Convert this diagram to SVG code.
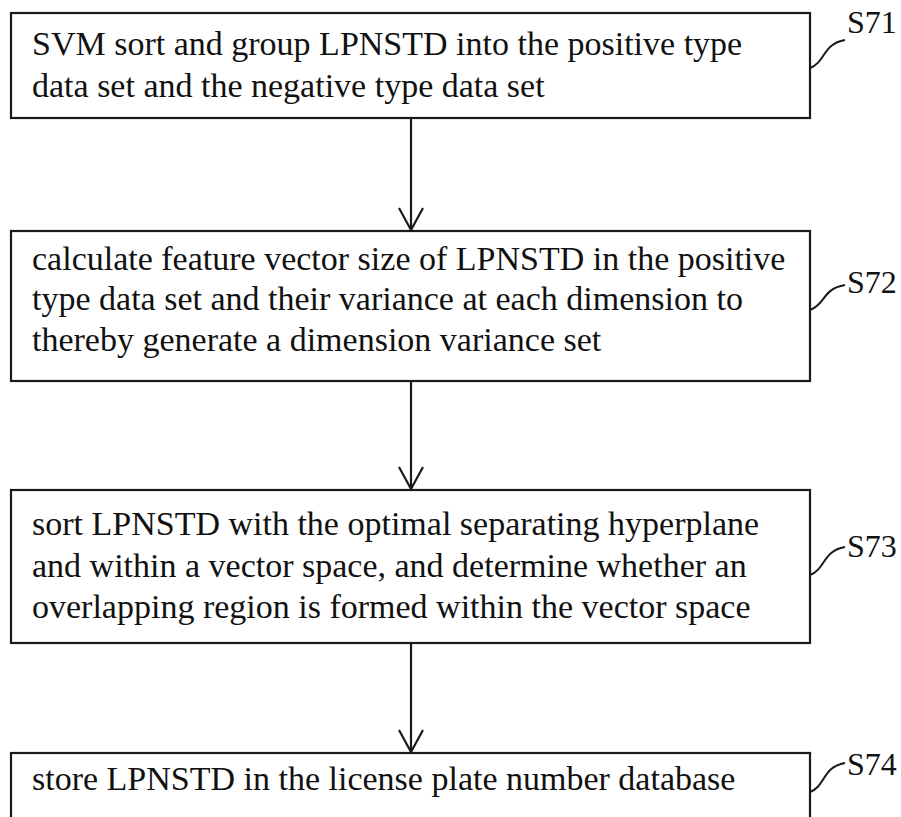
<svg xmlns="http://www.w3.org/2000/svg" width="901" height="817" viewBox="0 0 901 817">
<style>
.box{fill:#fff;stroke:#1a1a1a;stroke-width:2.2}
.t{font-family:"Liberation Serif","Times New Roman",serif;font-size:34px;fill:#111}
.lbl{font-family:"Liberation Serif","Times New Roman",serif;font-size:32px;fill:#111}
.lead{fill:none;stroke:#1a1a1a;stroke-width:2}
.conn{fill:none;stroke:#1a1a1a;stroke-width:2.2}
.head{fill:none;stroke:#1a1a1a;stroke-width:2.2}
</style>
<g id="S71">
<rect class="box" x="11" y="13" width="799" height="105"/>
<text class="t" x="32" y="55">SVM sort and group LPNSTD into the positive type</text>
<text class="t" x="32" y="97">data set and the negative type data set</text>
<path class="lead" d="M810,68 C826,62 822,44 845,40"/>
<text class="lbl" x="847" y="33">S71</text>
</g>
<g id="S72">
<rect class="box" x="11" y="231" width="799" height="150"/>
<text class="t" x="32" y="270">calculate feature vector size of LPNSTD in the positive</text>
<text class="t" x="32" y="310">type data set and their variance at each dimension to</text>
<text class="t" x="32" y="351">thereby generate a dimension variance set</text>
<path class="lead" d="M810,310 C826,304 822,289 845,285"/>
<text class="lbl" x="847" y="293">S72</text>
</g>
<g id="S73">
<rect class="box" x="11" y="490" width="799" height="153"/>
<text class="t" x="32" y="535">sort LPNSTD with the optimal separating hyperplane</text>
<text class="t" x="32" y="577">and within a vector space, and determine whether an</text>
<text class="t" x="32" y="618">overlapping region is formed within the vector space</text>
<path class="lead" d="M810,575 C826,569 822,551 845,547"/>
<text class="lbl" x="847" y="557">S73</text>
</g>
<g id="S74">
<rect class="box" x="11" y="753" width="799" height="90"/>
<text class="t" x="32" y="790">store LPNSTD in the license plate number database</text>
<path class="lead" d="M810,792 C826,786 822,767 845,763"/>
<text class="lbl" x="847" y="775">S74</text>
</g>
<g id="connectors">
<line class="conn" x1="411" y1="118" x2="411" y2="230"/>
<path class="head" d="M399,208 L411,230 L423,208"/>
<line class="conn" x1="411" y1="381" x2="411" y2="489"/>
<path class="head" d="M399,467 L411,489 L423,467"/>
<line class="conn" x1="411" y1="643" x2="411" y2="752"/>
<path class="head" d="M399,730 L411,752 L423,730"/>
</g>
</svg>
